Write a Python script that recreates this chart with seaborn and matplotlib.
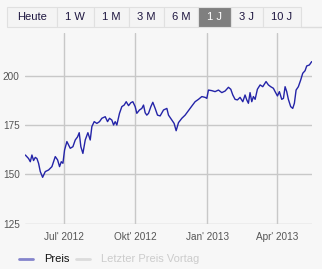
import numpy as np
import pandas as pd
import matplotlib
matplotlib.use("Agg")
import matplotlib.pyplot as plt
import seaborn as sns
from matplotlib.patches import Rectangle
from matplotlib.lines import Line2D

# ---- data ----
day_offsets = [-49, -44.8, -42.6, -40.5, -38.4, -36.2, -34.1, -32, -29.8, -26.8, -23.4, -19.2, -14.9,
               -10.6, -7.6, -5.1, -2.9, -0.8, 1.3, 4.3, 8.6, 12, 15, 18, 20.1, 22.2, 24.8, 27.8,
               31.2, 34.2, 36.3, 39.3, 42.7, 46.1, 49.1, 53.4, 56.4, 58.9, 61.9, 64.1, 66.2, 68.3,
               71.7, 74.7, 77.7, 80.3, 83.3, 86.3, 88.8, 91.8, 93.9, 97.3, 100.3, 102.5, 104.6,
               106.7, 108.9, 111.9, 114.4, 117.4, 120.4, 123.8, 128.1, 132.4, 134.5, 138.8, 141.7,
               144.3, 147.3, 151.6, 155.8, 160.1, 164.4, 168.6, 172.9, 177.2, 181.4, 183.6, 185.7,
               190, 194.2, 198.5, 202.8, 207, 211.3, 214.3, 216.9, 219.8, 222.8, 226.2, 229.7,
               232.6, 234.8, 236.9, 239, 241.2, 243.3, 245.5, 248.4, 251.9, 255.3, 259.5, 262.5,
               265.5, 268.9, 271.1, 274.1, 276.6, 279.6, 281.8, 283.9, 286, 288.1, 291.1, 293.7,
               295.8, 298, 300.9, 303.9, 306.5, 309.5, 311.6, 315, 318]
prices = [159.8, 158, 156.4, 159.8, 157, 158.6, 158, 155.6, 151.4, 148.5, 151.4, 152.2, 153.9,
          159, 157.3, 153.9, 156.4, 155.6, 162.3, 166.6, 163.2, 164, 167.4, 169, 171.1, 164,
          160.6, 167.4, 171.1, 167.4, 174.2, 176.7, 175.8, 176.7, 178.4, 179.2, 176.7, 178.4,
          177.5, 175, 176.7, 175, 180.9, 184.3, 185.1, 186.8, 184.8, 186.3, 186.8, 184.3, 180.9,
          182.6, 183.4, 185.1, 181.2, 180, 180.9, 184.3, 186.5, 183.4, 180, 179.6, 182.6, 183.4,
          180, 177.5, 175.8, 172.1, 176.2, 178.4, 180, 182.3, 184.6, 186.8, 188, 189.4, 189,
          188.5, 192.7, 192.4, 191.9, 192.7, 191.4, 192.2, 194.1, 193.1, 190.2, 188, 187.7, 189,
          186.8, 190.2, 187.7, 186, 191.4, 186.8, 189.4, 188, 193.1, 195.3, 194.4, 197, 195.3,
          194.4, 193.6, 191.9, 189.7, 191.9, 188, 188.5, 194.4, 191.9, 188, 184.3, 183.4, 186,
          192.7, 194.4, 197.8, 201.2, 202.5, 204.9, 205.4, 207.1]
ref_date = "2012-07-01"
tick_dates = ["2012-07-01", "2012-10-01", "2013-01-01", "2013-04-01"]
tick_labels = ["Jul' 2012", "Okt' 2012", "Jan' 2013", "Apr' 2013"]
y_ticks = [125, 150, 175, 200]
buttons = ["Heute", "1 W", "1 M", "3 M", "6 M", "1 J", "3 J", "10 J"]
selected_button = "1 J"
legend_labels = ["Preis", "Letzter Preis Vortag"]

df = pd.DataFrame({
    "date": pd.Timestamp(ref_date) + pd.to_timedelta(day_offsets, unit="D"),
    "price": prices,
})

W, H = 322, 269
sns.set_theme(style="white")
plt.rcParams["font.family"] = ["Liberation Sans", "DejaVu Sans"]
bg = "#f7f7f7"
fig = plt.figure(figsize=(W / 100, H / 100), dpi=100, facecolor=bg)

def fx(x):
    return x / W

def fy(y):
    return 1 - y / H

ax = fig.add_axes([fx(25.3), fy(223.7), fx(311.7) - fx(25.3), fy(33) - fy(223.7)])
ax.set_facecolor(bg)
sns.lineplot(data=df, x="date", y="price", ax=ax, color="#2424a8", linewidth=1.0)

ax.set_xlim(df["date"].min(), df["date"].max())
ax.set_ylim(125, 221.6)
ax.set_yticks(y_ticks)
ax.set_yticklabels([str(v) for v in y_ticks], fontsize=7.2, color="#555555")
ax.set_xticks(pd.to_datetime(tick_dates))
ax.set_xticklabels(tick_labels, fontsize=7.2, color="#555555")
ax.grid(True, color="#c8c8c8", linewidth=1.0)
ax.set_axisbelow(True)
for s in ax.spines.values():
    s.set_visible(False)
ax.tick_params(axis="y", length=0, pad=4)
ax.tick_params(axis="x", length=2, color="#c8c8c8", pad=4)
ax.set_xlabel("")
ax.set_ylabel("")
if ax.get_legend():
    ax.get_legend().remove()

# buttons
edges = [6.7, 56.5, 93.8, 128.7, 163.7, 198.3, 230.5, 262.8, 300.7]
for i, name in enumerate(buttons):
    x0, x1 = edges[i], edges[i + 1]
    sel = name == selected_button
    fc = "#7f7f7f" if sel else "#f4f4f4"
    fig.add_artist(Rectangle((fx(x0), fy(27.3)), fx(x1) - fx(x0), fy(7.3) - fy(27.3),
                             transform=fig.transFigure, facecolor=fc,
                             edgecolor="#e0e0e0", linewidth=0.8))
    fig.text(fx((x0 + x1) / 2), fy(17.5), name, ha="center", va="center",
             fontsize=8, color="white" if sel else "#1e1640")
fig.add_artist(Line2D([fx(300.7), 1], [fy(26.8), fy(26.8)], transform=fig.transFigure,
                      color="#dddddd", linewidth=1))

# legend (manual placement)
leg_y = 259
leg_items = [(19, 33, 44, "#8484cc", "#111111"), (76, 90, 101, "#dcdcdc", "#cccccc")]
for (h0, h1, tx, lc, tc), lab in zip(leg_items, legend_labels):
    fig.add_artist(Line2D([fx(h0), fx(h1)], [fy(leg_y), fy(leg_y)], transform=fig.transFigure,
                          color=lc, linewidth=2))
    fig.text(fx(tx), fy(leg_y), lab, ha="left", va="center", fontsize=8, color=tc)

fig.savefig("out.png", dpi=100, facecolor=bg)
